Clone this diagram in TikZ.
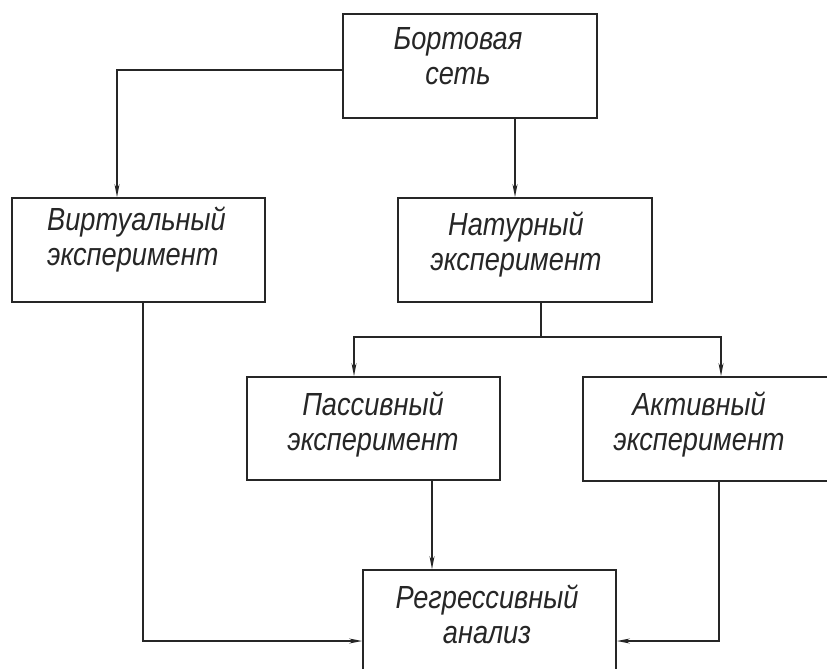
\documentclass[tikz,border=0pt]{standalone}
\usepackage{fontspec}
\setmainfont{Liberation Sans}
\newfontfamily\gost[FakeStretch=0.85]{Liberation Sans}
\usetikzlibrary{arrows.meta}
\tikzset{
  blk/.style={draw=black!85, line width=1.8pt, inner sep=0pt},
  lbl/.style={inner sep=0pt, font=\gost\itshape\fontsize{32}{35}\selectfont, text=black!85},
  ln/.style={draw=black!85, line width=1.3pt},
  arr/.style={ln, -{Stealth[length=13pt,width=5pt]}}
}
\begin{document}
\begin{tikzpicture}[x=1pt,y=1pt]
\useasboundingbox (0,0) rectangle (827,-669);
% boxes
\node[blk, minimum width=254pt, minimum height=104pt] (bort) at (470,-66) {};
\node[blk, minimum width=253pt, minimum height=104pt] (virt) at (138.5,-250) {};
\node[blk, minimum width=254pt, minimum height=104pt] (nat) at (525,-250) {};
\node[blk, minimum width=253pt, minimum height=103pt] (pass) at (373.5,-428.5) {};
\node[blk, minimum width=257pt, minimum height=104pt] (act) at (711.5,-429) {};
\node[blk, minimum width=253pt, minimum height=120pt] (reg) at (489.5,-630) {};
% texts
\node[lbl, anchor=north, align=center] (tbort) at (458,-27) {Бортовая\\сеть};
\node[lbl, anchor=north west, align=left] (tvirt) at (47,-207) {Виртуальный\\эксперимент};
\node[lbl, anchor=north, align=center] (tnat) at (516,-212) {Натурный\\эксперимент};
\node[lbl, anchor=north, align=center] (tpass) at (373,-392) {Пассивный\\эксперимент};
\node[lbl, anchor=north, align=center] (tact) at (699,-392) {Активный\\эксперимент};
\node[lbl, anchor=north, align=center] (treg) at (487,-585) {Регрессивный\\анализ};
% connectors
\coordinate (split) at (541,-337);
\draw[arr] ([yshift=-4pt]bort.west) -| ([xshift=-21.5pt]virt.north);
\draw[arr] ([xshift=45pt]bort.south) -- ([xshift=-10pt]nat.north);
\draw[ln] ([xshift=16pt]nat.south) -- (split);
\draw[arr] (split) -| ([xshift=-19.5pt]pass.north);
\draw[arr] (split) -| ([xshift=9.5pt]act.north);
\draw[arr] ([xshift=58.5pt]pass.south) -- ([xshift=-57.5pt]reg.north);
\draw[arr] ([xshift=4.5pt]virt.south) |- ([yshift=-11pt]reg.west);
\draw[arr] ([xshift=7.5pt]act.south) |- ([yshift=-11pt]reg.east);
\end{tikzpicture}
\end{document}
